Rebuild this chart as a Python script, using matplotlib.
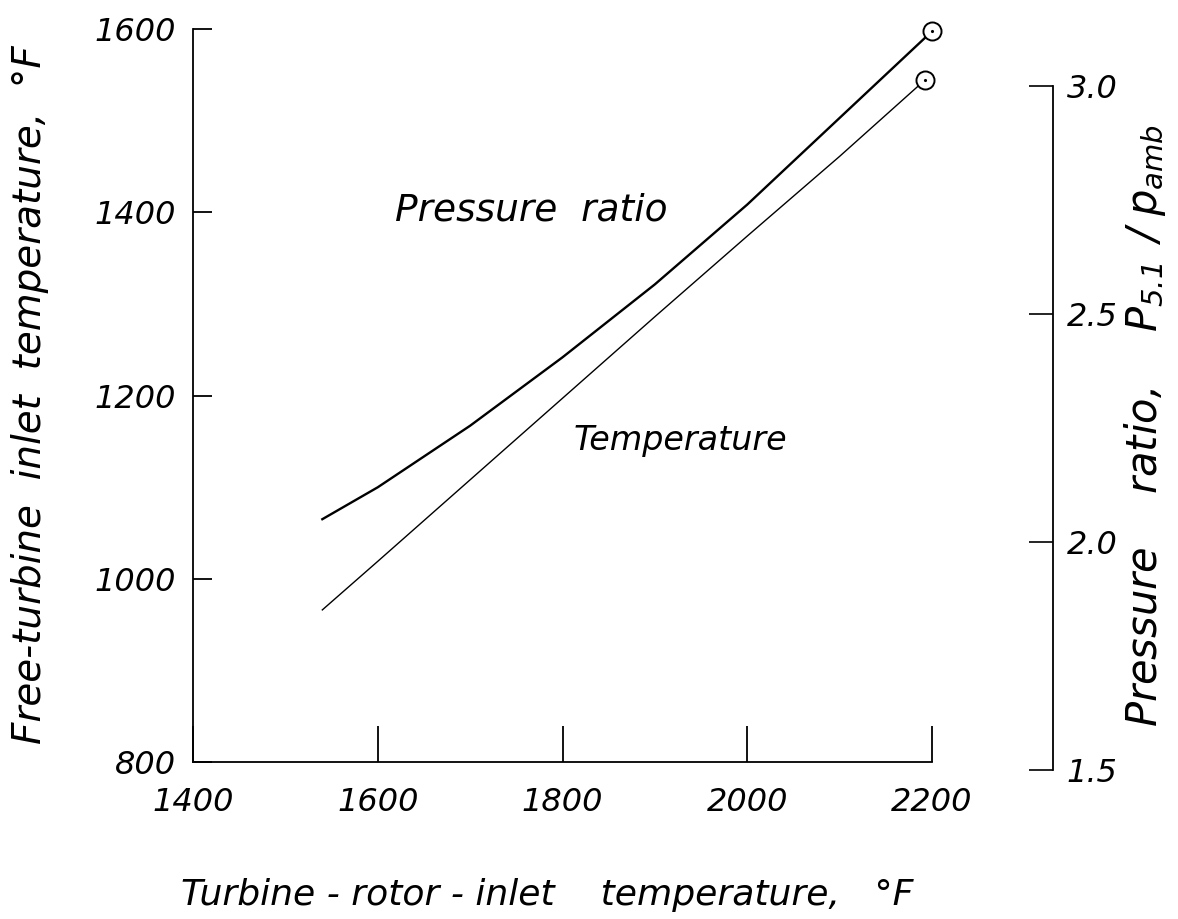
import matplotlib
matplotlib.use("Agg")
import matplotlib.pyplot as plt

# ---- data ----
rotor_temp_pr = [1540, 1600, 1700, 1800, 1900, 2000, 2100, 2200]
pressure_ratio = [2.05, 2.12, 2.255, 2.405, 2.565, 2.74, 2.93, 3.12]

rotor_temp_t = [1540, 1600, 1700, 1800, 1900, 2000, 2100, 2192]
free_turbine_temp = [966, 1019, 1108, 1197, 1286, 1374, 1461, 1544]

x_ticks = [1400, 1600, 1800, 2000, 2200]
y_ticks = [800, 1000, 1200, 1400, 1600]
pr_ticks = [1.5, 2.0, 2.5, 3.0]
pr_ticklabels = ["1.5", "2.0", "2.5", "3.0"]

plt.rcParams['font.family'] = ['DejaVu Sans']
plt.rcParams['font.style'] = 'oblique'
plt.rcParams['mathtext.fontset'] = 'dejavusans'
FONT = dict(family="DejaVu Sans", style="oblique", weight="normal")

W, H = 1178, 919
fig = plt.figure(figsize=(W / 100, H / 100), dpi=100)

def frac_x(px):
    return px / W

def frac_y(py):
    return 1 - py / H

# main axes: x 1400..2200 at px 193..932, y 800..1600 at px 762..29
ax = fig.add_axes([frac_x(193), frac_y(762), frac_x(932) - frac_x(193), frac_y(29) - frac_y(762)])
ax.set_xlim(1400, 2200)
ax.set_ylim(800, 1600)
ax.spines['top'].set_visible(False)
ax.spines['right'].set_visible(False)
ax.spines['left'].set_linewidth(1.3)
ax.spines['bottom'].set_linewidth(1.3)
ax.set_xticks(x_ticks)
ax.set_yticks(y_ticks)
ax.set_xticklabels([str(v) for v in x_ticks], fontdict=dict(size=23, **FONT))
ax.set_yticklabels([str(v) for v in y_ticks], fontdict=dict(size=23, **FONT))
ax.tick_params(axis='x', direction='in', length=26, width=1.3, pad=18)
ax.tick_params(axis='y', direction='in', length=14, width=1.3, pad=12)
ax.patch.set_alpha(0)

# temperature curve (left scale)
ax.plot(rotor_temp_t, free_turbine_temp, color='black', lw=1.0, clip_on=False)
ax.plot(rotor_temp_t[-1], free_turbine_temp[-1], marker='o', ms=13, mfc='white',
        mec='black', mew=1.4, clip_on=False, zorder=5)
ax.plot(rotor_temp_t[-1], free_turbine_temp[-1], marker='.', ms=2.5, color='black',
        clip_on=False, zorder=6)

# pressure ratio axes: 1.5..3.0 at px 770..86, spine at px 1053
ax2 = fig.add_axes([frac_x(193), frac_y(770), frac_x(932) - frac_x(193), frac_y(86) - frac_y(770)])
ax2.set_xlim(1400, 2200)
ax2.set_ylim(1.5, 3.0)
ax2.patch.set_alpha(0)
for s in ['top', 'left', 'bottom']:
    ax2.spines[s].set_visible(False)
ax2.spines['right'].set_position(('axes', (1053 - 193) / (932 - 193)))
ax2.spines['right'].set_linewidth(1.3)
ax2.spines['right'].set_linestyle((0, (6, 1)))
ax2.set_xticks([])
ax2.yaxis.set_ticks_position('right')
ax2.set_yticks(pr_ticks)
ax2.set_yticklabels(pr_ticklabels, fontdict=dict(size=23, **FONT))
ax2.tick_params(axis='y', direction='in', length=17, width=1.2, pad=10)

ax2.plot(rotor_temp_pr, pressure_ratio, color='black', lw=1.7, clip_on=False)
ax2.plot(rotor_temp_pr[-1], pressure_ratio[-1], marker='o', ms=13, mfc='white',
         mec='black', mew=1.4, clip_on=False, zorder=5)
ax2.plot(rotor_temp_pr[-1], pressure_ratio[-1], marker='.', ms=2.5, color='black',
         clip_on=False, zorder=6)

# curve labels
ax.text(1766, 1402, "Pressure  ratio", fontsize=27, ha='center', va='center', **FONT)
ax.text(1928, 1151, "Temperature", fontsize=24, ha='center', va='center', **FONT)

# axis labels
fig.text(frac_x(30), frac_y(395), "Free-turbine  inlet  temperature,  °F",
         rotation=90, ha='center', va='center', fontsize=28, **FONT)
fig.text(frac_x(547), frac_y(895), "Turbine - rotor - inlet    temperature,   °F",
         ha='center', va='center', fontsize=26, **FONT)
fig.text(frac_x(1145), frac_y(425),
         r"Pressure    ratio,    $P_{5.1}\;\,/\;p_{amb}$",
         rotation=90, ha='center', va='center', fontsize=30, **FONT)

fig.savefig("out.png", dpi=100)
